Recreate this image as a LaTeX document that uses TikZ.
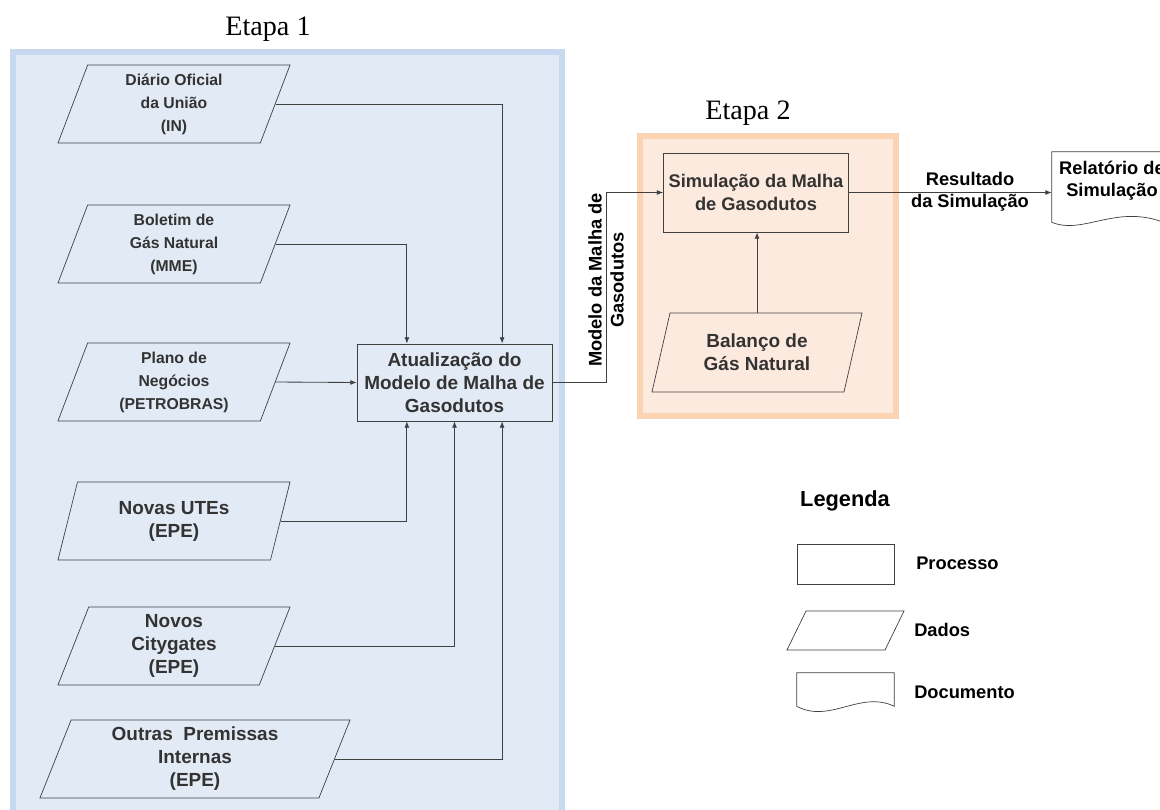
\documentclass[tikz,border=0pt]{standalone}
\usepackage{fontspec}
\setmainfont{Liberation Serif}
\setsansfont{Liberation Sans}
\usetikzlibrary{shapes.geometric,arrows.meta}
\definecolor{azulborda}{HTML}{C6D9F0}
\definecolor{azulfundo}{HTML}{E1EAF5}
\definecolor{laranjaborda}{HTML}{FBD4B4}
\definecolor{laranjafundo}{HTML}{FDEADF}
\definecolor{linha}{HTML}{404040}
\definecolor{texto}{HTML}{333333}

\begin{document}
\begin{tikzpicture}[x=0.025cm,y=-0.025cm,
	dados/.style={trapezium, trapezium left angle=64, trapezium right angle=116, trapezium stretches body, draw=linha, line width=0.5pt, minimum width=5.8cm, minimum height=1.95cm, inner sep=0pt, align=center, text=texto, font=\sffamily\bfseries\fontsize{13.5}{16.4}\selectfont},
	dadosfino/.style={dados, font=\sffamily\bfseries\fontsize{11.2}{16.4}\selectfont},
	processo/.style={rectangle, draw=linha, line width=0.5pt, inner sep=0pt, align=center, text=texto, font=\sffamily\bfseries\fontsize{13.5}{16.4}\selectfont},
	rotulo/.style={align=center, inner sep=0pt, font=\sffamily\bfseries\fontsize{13}{15.6}\selectfont},
	etapa/.style={inner sep=0pt, font=\fontsize{20}{24}\selectfont},
	seta/.style={draw=linha, line width=0.6pt, -{Latex[length=4.5pt,width=3.5pt]}}]
	\useasboundingbox (0,0) rectangle (1160,810);

	%Etapas
	\draw[azulborda, fill=azulfundo, line width=4.3pt] (13,52) rectangle (562,816);
	\draw[laranjaborda, fill=laranjafundo, line width=4.3pt] (640,136) rectangle (896,416);
	\node[etapa] (etapa1) at (268,29) {Etapa 1};
	\node[etapa] (etapa2) at (748,113) {Etapa 2};

	%Dados da etapa 1
	\node[dadosfino] (diario) at (174,104) {Diário Oficial\\da União\\(IN)};
	\node[dadosfino] (boletim) at (174,244) {Boletim de\\Gás Natural\\(MME)};
	\node[dadosfino] (plano) at (174,382) {Plano de\\Negócios\\(PETROBRAS)};
	\node[dados] (utes) at (174,521) {Novas UTEs\\(EPE)};
	\node[dados] (city) at (174,646) {Novos\\Citygates\\(EPE)};
	\node[dados, minimum width=7.75cm] (outras) at (195,759) {Outras~ Premissas\\Internas\\(EPE)};

	%Processos
	\node[processo, minimum width=4.875cm, minimum height=1.925cm] (atual) at (454.5,382.5) {Atualização do\\Modelo de Malha de\\Gasodutos};
	\node[processo, font=\sffamily\bfseries\fontsize{13}{16.4}\selectfont, minimum width=4.625cm, minimum height=1.975cm] (sim) at (756,192.5) {Simulação da Malha\\de Gasodutos};
	\node[dados, minimum width=5.25cm, minimum height=1.975cm] (bal) at (757,352.5) {Balanço de\\Gás Natural};

	%Documento final
	\node[inner sep=0pt, minimum width=3cm, minimum height=1.75cm] (rel) at (1112,187) {};
	\draw[linha, line width=0.5pt] (rel.south west) -- (rel.north west) -- (rel.north east) -- ([yshift=-0.1cm]rel.south east)
		.. controls (1120,200) and (1085,236) .. (rel.south west);
	\node[rotulo] (reltexto) at (1112,181) {Relatório de\\Simulação};

	%Conexoes
	\draw[seta] (diario.east) -| ([xshift=1.19cm]atual.north);
	\draw[seta] (boletim.east) -| ([xshift=-1.19cm]atual.north);
	\draw[seta] (plano.east) -- (atual.west);
	\draw[seta] (utes.east) -| ([xshift=-1.19cm]atual.south);
	\draw[seta] (city.east) -| (atual.south);
	\draw[seta] (outras.east) -| ([xshift=1.19cm]atual.south);
	\draw[seta] (atual.east) -- ++(54.5,0) |- (sim.west);
	\draw[seta] (bal.north) -- (bal.north |- sim.south);
	\draw[seta] (sim.east) -- (sim.east -| rel.west);
	\node[rotulo, rotate=90] (modelo) at (606,280) {Modelo da Malha de\\Gasodutos};
	\node[rotulo] (resultado) at (970,192) {Resultado\\da Simulação};

	%Legenda
	\node[font=\sffamily\bfseries\fontsize{15.5}{18}\selectfont, inner sep=0pt] (legenda) at (845,501) {Legenda};
	\node[draw=linha, line width=0.5pt, minimum width=2.425cm, minimum height=1cm, inner sep=0pt] (legproc) at (845.5,564) {};
	\draw[linha, line width=0.5pt] (787,650) -- (806,611) -- (904,611) -- (885,650) -- cycle;
	\node[inner sep=0pt, minimum width=2.425cm, minimum height=0.825cm] (legdoc) at (845.5,689.5) {};
	\draw[linha, line width=0.5pt] (legdoc.south west) -- (legdoc.north west) -- (legdoc.north east) -- (legdoc.south east)
		.. controls (860,690) and (830,724) .. (legdoc.south west);
	\node[rotulo, anchor=west] (txtproc) at (916,563) {Processo};
	\node[rotulo, anchor=west] (txtdados) at (914,630) {Dados};
	\node[rotulo, anchor=west] (txtdoc) at (914,692) {Documento};
\end{tikzpicture}
\end{document}
